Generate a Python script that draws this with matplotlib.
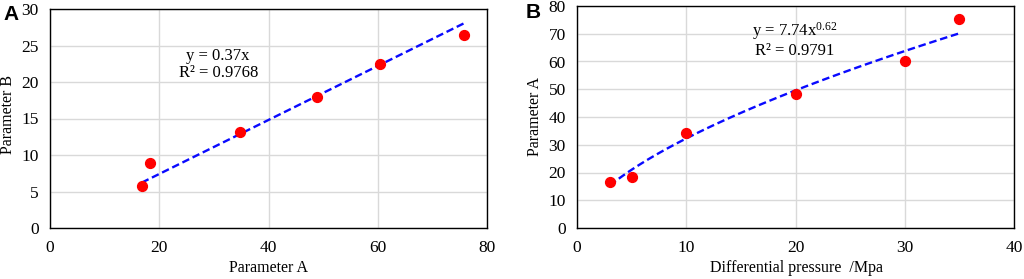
import numpy as np
import matplotlib.pyplot as plt

plt.rcParams['font.family'] = ['Liberation Serif', 'DejaVu Serif']
plt.rcParams['font.size'] = 12.5
plt.rcParams['mathtext.fontset'] = 'custom'
plt.rcParams['mathtext.rm'] = 'Liberation Serif'
plt.rcParams['mathtext.it'] = 'Liberation Serif:italic'

# panel A data
a_x = [16.8, 18.3, 34.7, 48.8, 60.5, 75.7]
a_y = [5.7, 8.9, 13.2, 17.9, 22.4, 26.5]
a_slope = 0.37

# panel B data
b_x = [3.0, 5.0, 10.0, 20.0, 30.0, 35.0]
b_y = [16.6, 18.3, 34.3, 48.3, 60.2, 75.3]
b_coef = 7.74
b_pow = 0.62

fig = plt.figure(figsize=(10.24, 2.79), dpi=100)
axA = fig.add_axes([50 / 1024, 1 - 228 / 279, 437 / 1024, 219 / 279])
axB = fig.add_axes([577 / 1024, 1 - 228 / 279, 437 / 1024, 222 / 279])


def style(ax):
    ax.grid(True, color='#d9d9d9', linewidth=1.0)
    ax.set_axisbelow(True)
    for s in ax.spines.values():
        s.set_color('black')
        s.set_linewidth(1.0)
    ax.tick_params(length=0, labelsize=12.5)
    ax.tick_params(axis='x', pad=9)
    ax.tick_params(axis='y', pad=8)


# A
style(axA)
xs = np.linspace(min(a_x), max(a_x), 50)
axA.plot(xs, a_slope * xs, '--', color='#0a0aff', linewidth=1.7, dashes=(3.2, 1.6))
axA.scatter(a_x, a_y, s=50, color='red', zorder=3)
axA.set_xlim(0, 80)
axA.set_ylim(0, 30)
axA.set_xticks(range(0, 81, 20))
axA.set_yticks(range(0, 31, 5))
axA.set_xlabel('Parameter A', fontsize=11.5, va='center')
axA.set_ylabel('Parameter B', fontsize=11.5, va='center')
axA.xaxis.set_label_coords(0.499, -0.183)
axA.yaxis.set_label_coords(-0.096, 0.52)
axA.text(30.8, 22.4, 'y = 0.37x\nR² = 0.9768', ha='center', va='center',
         fontsize=12, linespacing=1.1)

# B
style(axB)
xs = np.linspace(min(b_x), max(b_x), 80)
axB.plot(xs, b_coef * xs ** b_pow, '--', color='#0a0aff', linewidth=1.7, dashes=(3.2, 1.6))
axB.scatter(b_x, b_y, s=50, color='red', zorder=3)
axB.set_xlim(0, 40)
axB.set_ylim(0, 80)
axB.set_xticks(range(0, 41, 10))
axB.set_yticks(range(0, 81, 10))
axB.set_xlabel('Differential pressure  /Mpa', fontsize=11.5, va='center')
axB.set_ylabel('Parameter A', fontsize=11.5, va='center')
axB.xaxis.set_label_coords(0.502, -0.18)
axB.yaxis.set_label_coords(-0.096, 0.5)
axB.text(19.9, 68.0, 'y = 7.74x$^{0.62}$\nR² = 0.9791', ha='center', va='center',
         fontsize=12, linespacing=1.05)

fig.text(3 / 1024, 1 - 14 / 279, 'A', fontsize=15, fontweight='bold',
         family='Liberation Sans', va='center', ha='left')
fig.text(526 / 1024, 1 - 12 / 279, 'B', fontsize=15, fontweight='bold',
         family='Liberation Sans', va='center', ha='left')

fig.savefig('out.png', dpi=100)
